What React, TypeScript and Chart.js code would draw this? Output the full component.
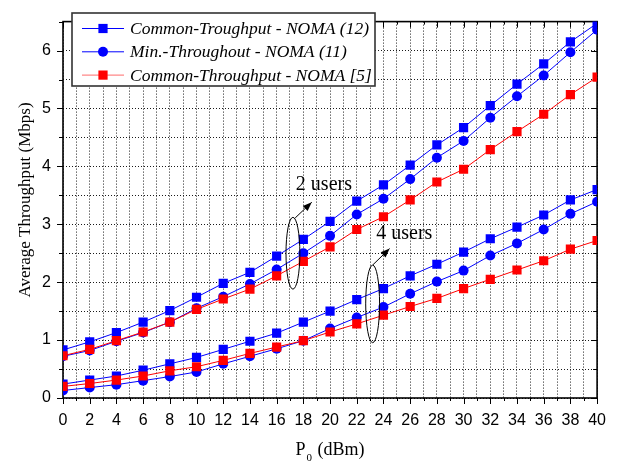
import React, { useEffect, useRef } from "react";
import { Chart, registerables } from "chart.js";

Chart.register(...registerables);

const powerDbm = [0, 2, 4, 6, 8, 10, 12, 14, 16, 18, 20, 22, 24, 26, 28, 30, 32, 34, 36, 38, 40];

const twoUserCommon12 = [0.83, 0.97, 1.13, 1.31, 1.51, 1.74, 1.98, 2.17, 2.45, 2.74, 3.05, 3.4, 3.68, 4.02, 4.37, 4.67, 5.05, 5.42, 5.77, 6.15, 6.47];
const twoUserMin11 = [0.72, 0.82, 0.98, 1.13, 1.31, 1.55, 1.75, 1.97, 2.22, 2.5, 2.8, 3.17, 3.44, 3.78, 4.15, 4.44, 4.84, 5.21, 5.57, 5.97, 6.36];
const twoUserRef5 = [0.73, 0.84, 0.99, 1.14, 1.31, 1.53, 1.71, 1.88, 2.11, 2.36, 2.61, 2.91, 3.13, 3.42, 3.73, 3.95, 4.29, 4.6, 4.9, 5.24, 5.54];
const fourUserCommon12 = [0.24, 0.31, 0.38, 0.48, 0.59, 0.7, 0.84, 0.98, 1.12, 1.31, 1.5, 1.7, 1.89, 2.11, 2.31, 2.52, 2.75, 2.95, 3.16, 3.42, 3.6];
const fourUserMin11 = [0.13, 0.18, 0.23, 0.3, 0.37, 0.45, 0.59, 0.72, 0.85, 0.99, 1.2, 1.39, 1.57, 1.8, 2.01, 2.2, 2.46, 2.67, 2.91, 3.18, 3.39];
const fourUserRef5 = [0.2, 0.25, 0.31, 0.38, 0.47, 0.54, 0.65, 0.77, 0.88, 0.99, 1.14, 1.28, 1.43, 1.58, 1.72, 1.89, 2.05, 2.21, 2.37, 2.57, 2.72];

const legendLabels = [
  "Common-Troughput - NOMA (12)",
  "Min.-Throughout - NOMA (11)",
  "Common-Throughput - NOMA [5]",
];
const xTitle = ["P", "0", " (dBm)"];
const yTitle = "Average Throughput (Mbps)";

// annotations in data coordinates
const groupNotes = [
  { text: "2 users", ex: 17.22, ey: 2.5, erx: 0.52, ery: 0.62, ax0: 17.39, ay0: 3.11, ax1: 18.63, ay1: 3.38, tx: 17.44, ty: 3.59 },
  { text: "4 users", ex: 23.19, ey: 1.625, erx: 0.52, ery: 0.67, ax0: 23.21, ay0: 2.3, ax1: 24.46, ay1: 2.58, tx: 23.46, ty: 2.75 },
];

const BLUE = "#0000ff";
const RED = "#ff0000";
const SERIF = "'Liberation Serif', 'Times New Roman', serif";
const SANS = "'Liberation Sans', Arial, sans-serif";

const pts = (ys: number[]) => powerDbm.map((x, i) => ({ x, y: ys[i] }));

function ds(data: number[], color: string, style: string) {
  return {
    data: pts(data),
    borderColor: color,
    backgroundColor: color,
    borderWidth: 1,
    pointStyle: style,
    pointRadius: style === "circle" ? 5 : 6.5,
    pointBorderWidth: 0,
    tension: 0,
  };
}

const framePlugin = {
  id: "frame",
  beforeDatasetsDraw(chart: any) {
    const { ctx, chartArea: a, scales } = chart;
    const xs = scales.x, ys = scales.y;
    ctx.save();
    ctx.strokeStyle = "#000";
    ctx.lineWidth = 1;
    for (let v = 0; v <= 40; v += 1) {
      const px = Math.round(xs.getPixelForValue(v)) + 0.5;
      const len = v % 2 === 0 ? 6 : 3;
      ctx.beginPath();
      ctx.moveTo(px, a.bottom);
      ctx.lineTo(px, a.bottom + len);
      ctx.moveTo(px, a.top);
      ctx.lineTo(px, a.top + len);
      ctx.stroke();
    }
    for (let i = 0; i <= 13; i++) {
      const v = i * 0.5;
      const py = Math.round(ys.getPixelForValue(v)) + 0.5;
      const len = i % 2 === 0 ? 6 : 4;
      ctx.beginPath();
      ctx.moveTo(a.left, py);
      ctx.lineTo(a.left - len, py);
      ctx.moveTo(a.right, py);
      ctx.lineTo(a.right - len, py);
      ctx.stroke();
    }
    ctx.lineWidth = 1.6;
    ctx.strokeRect(a.left, a.top, a.right - a.left, a.bottom - a.top);

    // axis titles
    ctx.fillStyle = "#000";
    ctx.font = `17px ${SERIF}`;
    ctx.save();
    ctx.translate(30, 200);
    ctx.rotate(-Math.PI / 2);
    ctx.textAlign = "center";
    ctx.textBaseline = "alphabetic";
    ctx.fillText(yTitle, 0, 0);
    ctx.restore();

    ctx.font = `18px ${SERIF}`;
    const wP = ctx.measureText(xTitle[0]).width;
    ctx.font = `11px ${SERIF}`;
    const w0 = ctx.measureText(xTitle[1]).width;
    ctx.font = `18px ${SERIF}`;
    const wR = ctx.measureText(xTitle[2]).width;
    const total = wP + w0 + 2 + wR;
    let sx = (a.left + a.right) / 2 - total / 2;
    ctx.textAlign = "left";
    ctx.fillText(xTitle[0], sx, 455);
    sx += wP + 1;
    ctx.font = `11px ${SERIF}`;
    ctx.fillText(xTitle[1], sx, 461);
    sx += w0 + 1;
    ctx.font = `18px ${SERIF}`;
    ctx.fillText(xTitle[2], sx, 455);
    ctx.restore();
  },
  afterDatasetsDraw(chart: any) {
    const { ctx, scales } = chart;
    const xs = scales.x, ys = scales.y;
    ctx.save();
    // annotations
    for (const n of groupNotes) {
      const cx = xs.getPixelForValue(n.ex), cy = ys.getPixelForValue(n.ey);
      const rx = Math.abs(xs.getPixelForValue(n.ex + n.erx) - cx);
      const ry = Math.abs(ys.getPixelForValue(n.ey + n.ery) - cy);
      ctx.strokeStyle = "#000";
      ctx.lineWidth = 1;
      ctx.beginPath();
      ctx.ellipse(cx, cy, rx, ry, 0, 0, Math.PI * 2);
      ctx.stroke();
      const x0 = xs.getPixelForValue(n.ax0), y0 = ys.getPixelForValue(n.ay0);
      const x1 = xs.getPixelForValue(n.ax1), y1 = ys.getPixelForValue(n.ay1);
      ctx.beginPath();
      ctx.moveTo(x0, y0);
      ctx.lineTo(x1, y1);
      ctx.stroke();
      const ang = Math.atan2(y1 - y0, x1 - x0);
      const hl = 9, hw = 3.5;
      ctx.fillStyle = "#000";
      ctx.beginPath();
      ctx.moveTo(x1, y1);
      ctx.lineTo(x1 - hl * Math.cos(ang) + hw * Math.sin(ang), y1 - hl * Math.sin(ang) - hw * Math.cos(ang));
      ctx.lineTo(x1 - hl * Math.cos(ang) - hw * Math.sin(ang), y1 - hl * Math.sin(ang) + hw * Math.cos(ang));
      ctx.closePath();
      ctx.fill();
      ctx.font = `20px ${SERIF}`;
      ctx.textAlign = "left";
      ctx.textBaseline = "alphabetic";
      ctx.fillText(n.text, xs.getPixelForValue(n.tx), ys.getPixelForValue(n.ty));
    }

    // legend
    const bx = 72, by = 13, bw = 303, bh = 73;
    ctx.fillStyle = "#fff";
    ctx.fillRect(bx, by, bw, bh);
    ctx.strokeStyle = "#333";
    ctx.lineWidth = 1.6;
    ctx.strokeRect(bx, by, bw, bh);
    const rows = [
      { color: BLUE, line: BLUE, style: "rect" },
      { color: BLUE, line: BLUE, style: "circle" },
      { color: RED, line: "#ff6a6a", style: "rect" },
    ];
    rows.forEach((r, i) => {
      const y = 28.5 + i * 23.3;
      ctx.strokeStyle = r.line;
      ctx.lineWidth = 1;
      ctx.beginPath();
      ctx.moveTo(82, y);
      ctx.lineTo(124, y);
      ctx.stroke();
      ctx.fillStyle = r.color;
      if (r.style === "rect") {
        ctx.fillRect(103 - 4.6, y - 4.6, 9.2, 9.2);
      } else {
        ctx.beginPath();
        ctx.arc(103, y, 5, 0, Math.PI * 2);
        ctx.fill();
      }
      ctx.fillStyle = "#000";
      ctx.font = `italic 17.5px ${SERIF}`;
      ctx.textAlign = "left";
      ctx.textBaseline = "middle";
      ctx.fillText(legendLabels[i], 130, y + 1);
    });
    ctx.restore();
  },
};

export default function App() {
  const ref = useRef<HTMLCanvasElement | null>(null);
  useEffect(() => {
    document.body.style.margin = "0";
    const canvas = ref.current;
    if (!canvas) return;
    const chart = new Chart(canvas, {
      type: "line",
      data: {
        datasets: [
          ds(twoUserRef5, RED, "rect"),
          ds(fourUserRef5, RED, "rect"),
          ds(twoUserMin11, BLUE, "circle"),
          ds(fourUserMin11, BLUE, "circle"),
          ds(twoUserCommon12, BLUE, "rect"),
          ds(fourUserCommon12, BLUE, "rect"),
        ] as any,
      },
      options: {
        responsive: false,
        animation: false,
        devicePixelRatio: 1,
        layout: { padding: { top: 5, right: 20, left: 0, bottom: 0 } },
        plugins: { legend: { display: false }, tooltip: { enabled: false } },
        scales: {
          x: {
            type: "linear",
            min: 0,
            max: 40,
            ticks: {
              stepSize: 1,
              autoSkip: false,
              maxRotation: 0,
              padding: 13,
              color: "#000",
              font: { family: SANS, size: 16 },
              callback: (v: any) => (Number(v) % 2 === 0 ? String(v) : ""),
            },
            grid: { color: "#1a1a1a", lineWidth: 1, drawTicks: false },
            border: { display: false, dash: [1, 2] },
            afterFit: (s: any) => {
              s.height = 66;
            },
          },
          y: {
            type: "linear",
            min: 0,
            max: 6.5,
            ticks: {
              stepSize: 0.5,
              autoSkip: false,
              padding: 12,
              color: "#000",
              font: { family: SANS, size: 16 },
              callback: (v: any) => (Number.isInteger(Number(v)) ? String(v) : ""),
            },
            grid: { color: "#1a1a1a", lineWidth: 1, drawTicks: false },
            border: { display: false, dash: [1, 2] },
            afterFit: (s: any) => {
              s.width = 63;
            },
          },
        },
      } as any,
      plugins: [framePlugin],
    });
    return () => chart.destroy();
  }, []);
  return (
    <div style={{ position: "fixed", left: 0, top: 0, width: 619, height: 464, background: "#fff" }}>
      <canvas ref={ref} width={619} height={464} style={{ width: 619, height: 464 }} />
    </div>
  );
}
